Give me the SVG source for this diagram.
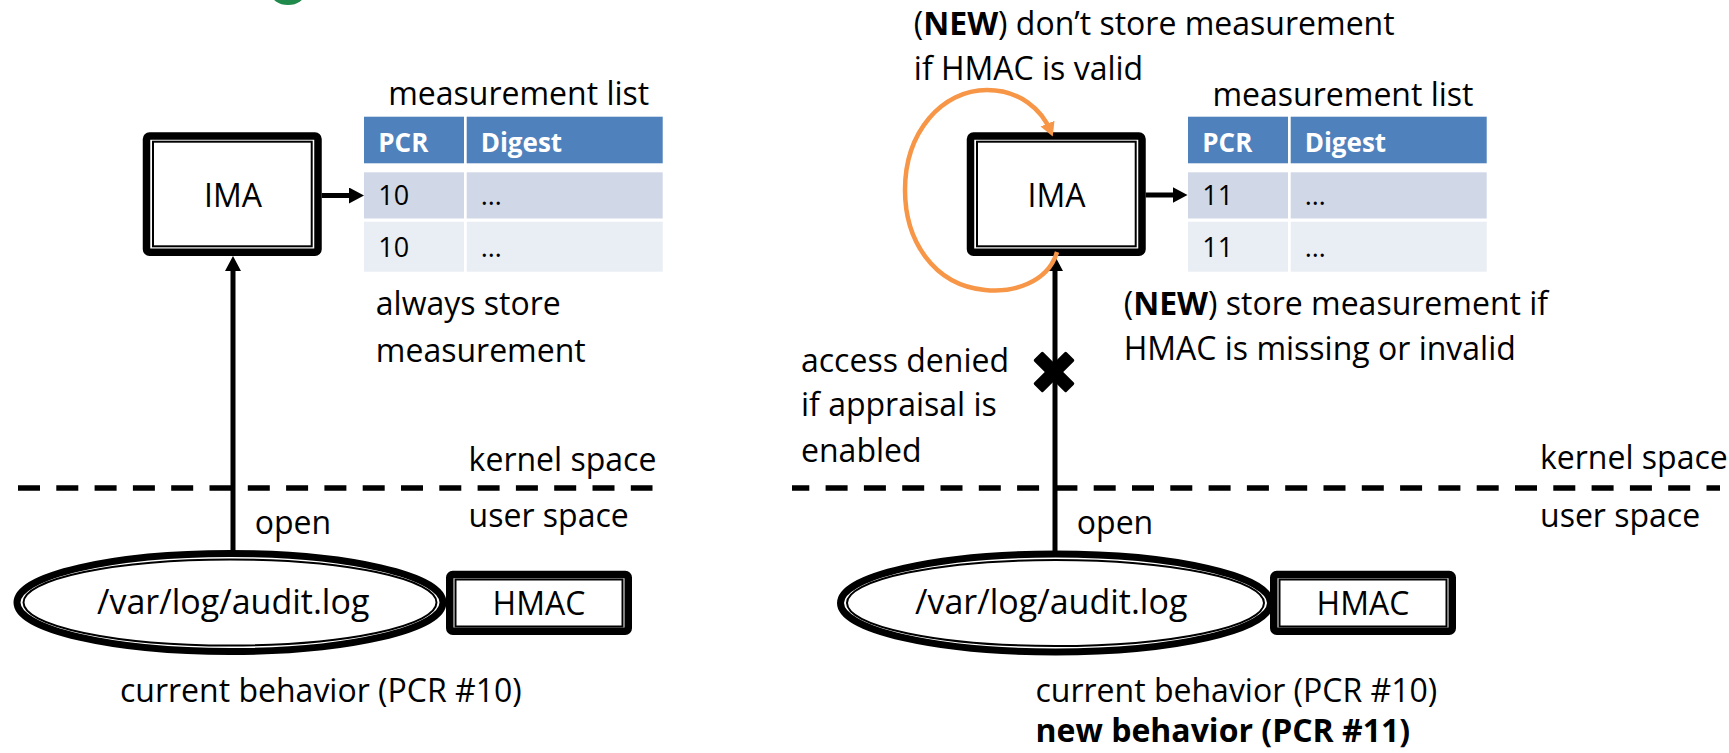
<svg xmlns="http://www.w3.org/2000/svg" width="1729" height="753" viewBox="0 0 1729 753">
<defs>
<style>
.t{font-family:"Open Sans","Liberation Sans",sans-serif;font-size:32px;fill:#000}
.b{font-weight:bold}
.f{font-size:34px}
.th{font-family:"Open Sans","Liberation Sans",sans-serif;font-size:26px;font-weight:bold;fill:#fff}
.td{font-family:"Open Sans","Liberation Sans",sans-serif;font-size:27px;fill:#000}
.outer{fill:#fff;stroke:#000;stroke-width:7.5}
.inner{fill:none;stroke:#000;stroke-width:2}
.hdr{fill:#4F81BD}
.r1{fill:#D0D8E8}
.r2{fill:#E9EDF4}
.conn{stroke:#000;stroke-width:5;fill:none}
.loop{stroke:#F79646;stroke-width:4.5;fill:none}
.dash{stroke:#000;stroke-width:5.3;stroke-dasharray:22 16.3;fill:none}
</style>
<marker id="ah" markerUnits="userSpaceOnUse" markerWidth="16" markerHeight="17" refX="5" refY="8" orient="auto">
<path d="M0,0 L15,8 L0,16 z" fill="#000"/>
</marker>
<marker id="oh" markerUnits="userSpaceOnUse" markerWidth="15" markerHeight="16" refX="8" refY="7.5" orient="auto">
<path d="M0,0 L14,7.5 L0,15 z" fill="#F79646"/>
</marker>
</defs>

<g id="logo-fragment">
<ellipse cx="288" cy="-7" rx="17" ry="12" fill="#1f8a4c"/>
</g>

<!-- LEFT PANEL -->
<g id="ima-left">
<rect class="outer" x="146.5" y="136" width="171.5" height="116.3" rx="3"/>
<rect class="inner" x="153" y="141.7" width="158.7" height="104.6"/>
<text class="t" x="233" y="207.3" text-anchor="middle">IMA</text>
</g>

<g id="table-left">
<text class="t" x="518.7" y="105" text-anchor="middle">measurement list</text>
<rect class="hdr" x="364" y="116.7" width="100" height="46.6"/>
<rect class="hdr" x="466.7" y="116.7" width="196" height="46.6"/>
<rect class="r1" x="364" y="172.3" width="100" height="46.2"/>
<rect class="r1" x="466.7" y="172.3" width="196" height="46.2"/>
<rect class="r2" x="364" y="221.7" width="100" height="50"/>
<rect class="r2" x="466.7" y="221.7" width="196" height="50"/>
<text class="th" x="378.3" y="151.7">PCR</text>
<text class="th" x="480.7" y="151.7">Digest</text>
<text class="td" x="378.3" y="205">10</text>
<text class="td" x="480.7" y="205">…</text>
<text class="td" x="378.3" y="256.7">10</text>
<text class="td" x="480.7" y="256.7">…</text>
</g>

<g id="note-left">
<text class="t" x="375.8" y="315">always store</text>
<text class="t" x="375.8" y="361.7">measurement</text>
</g>

<g id="boundary-left">
<line class="dash" x1="18" y1="488" x2="652.5" y2="488"/>
<text class="t" x="468.6" y="470.7">kernel space</text>
<text class="t" x="468.6" y="526.7">user space</text>
</g>

<g id="file-left">
<ellipse cx="230" cy="602.5" rx="213" ry="49" fill="#fff" stroke="#000" stroke-width="7"/>
<ellipse cx="230" cy="602.5" rx="206.5" ry="43" fill="none" stroke="#000" stroke-width="2"/>
<text class="t f" x="97" y="614">/var/log/audit.log</text>
</g>

<g id="hmac-left">
<rect class="outer" x="449.75" y="574.5" width="178.5" height="56.75" rx="3"/>
<rect class="inner" x="455.5" y="579.5" width="167" height="47"/>
<text class="t" x="539" y="615" text-anchor="middle">HMAC</text>
</g>

<g id="caption-left">
<text class="t" x="120" y="701.7">current behavior (PCR #10)</text>
</g>

<!-- RIGHT PANEL -->
<g id="note-right-top">
<text class="t" x="913.8" y="35">(<tspan class="b">NEW</tspan>) don’t store measurement</text>
<text class="t" x="913.8" y="80">if HMAC is valid</text>
</g>

<g id="ima-right">
<rect class="outer" x="970.5" y="136" width="171.5" height="116.3" rx="3"/>
<rect class="inner" x="977" y="141.7" width="158.7" height="104.6"/>
<text class="t" x="1056.5" y="207.3" text-anchor="middle">IMA</text>
</g>

<g id="table-right">
<text class="t" x="1343" y="106" text-anchor="middle">measurement list</text>
<rect class="hdr" x="1188" y="116.7" width="100" height="46.6"/>
<rect class="hdr" x="1290.7" y="116.7" width="196" height="46.6"/>
<rect class="r1" x="1188" y="172.3" width="100" height="46.2"/>
<rect class="r1" x="1290.7" y="172.3" width="196" height="46.2"/>
<rect class="r2" x="1188" y="221.7" width="100" height="50"/>
<rect class="r2" x="1290.7" y="221.7" width="196" height="50"/>
<text class="th" x="1202.3" y="151.7">PCR</text>
<text class="th" x="1304.7" y="151.7">Digest</text>
<text class="td" x="1202.3" y="205">11</text>
<text class="td" x="1304.7" y="205">…</text>
<text class="td" x="1202.3" y="256.7">11</text>
<text class="td" x="1304.7" y="256.7">…</text>
</g>

<g id="note-right-mid">
<text class="t" x="1123.7" y="315">(<tspan class="b">NEW</tspan>) store measurement if</text>
<text class="t" x="1123.7" y="360">HMAC is missing or invalid</text>
</g>

<g id="note-denied">
<text class="t" x="801" y="371.7">access denied</text>
<text class="t" x="801" y="415.5">if appraisal is</text>
<text class="t" x="801" y="461.7">enabled</text>
</g>

<g id="boundary-right">
<line class="dash" x1="792" y1="488" x2="1720" y2="488" stroke-dashoffset="4.7"/>
<text class="t" x="1540" y="469.3">kernel space</text>
<text class="t" x="1540" y="526.7">user space</text>
</g>

<g id="file-right">
<ellipse cx="1055.5" cy="603" rx="215" ry="49" fill="#fff" stroke="#000" stroke-width="7"/>
<ellipse cx="1055.5" cy="603" rx="208.5" ry="43" fill="none" stroke="#000" stroke-width="2"/>
<text class="t f" x="915" y="614">/var/log/audit.log</text>
</g>

<g id="hmac-right">
<rect class="outer" x="1273.75" y="574.5" width="178.5" height="56.75" rx="3"/>
<rect class="inner" x="1279.5" y="579.5" width="167" height="47"/>
<text class="t" x="1363" y="615" text-anchor="middle">HMAC</text>
</g>

<g id="caption-right">
<text class="t" x="1035.5" y="701.7">current behavior (PCR #10)</text>
<text class="t b" x="1035.5" y="741.7">new behavior (PCR #11)</text>
</g>

<g id="connectors">
<line class="conn" x1="321.7" y1="195.5" x2="354" y2="195.5" marker-end="url(#ah)"/>
<line class="conn" x1="233" y1="551" x2="233" y2="266" marker-end="url(#ah)"/>
<text class="t" x="254.7" y="534">open</text>
<line class="conn" x1="1145.7" y1="195" x2="1177.5" y2="195" marker-end="url(#ah)"/>
<line class="conn" x1="1055" y1="551" x2="1055" y2="266" marker-end="url(#ah)"/>
<text class="t" x="1076.8" y="534">open</text>
<path class="loop" d="M1057,252 C1048,283 1012,293 985,290 C933,285 905,240 905,190 C905,132 942,90 987,90 C1020,90 1042,110 1050.5,131" marker-end="url(#oh)"/>
<g id="denied-cross" transform="translate(1054,372) rotate(45)" fill="#000">
<rect x="-23" y="-6.5" width="46" height="13" rx="1.5"/>
<rect x="-6.5" y="-23" width="13" height="46" rx="1.5"/>
</g>
</g>
</svg>
